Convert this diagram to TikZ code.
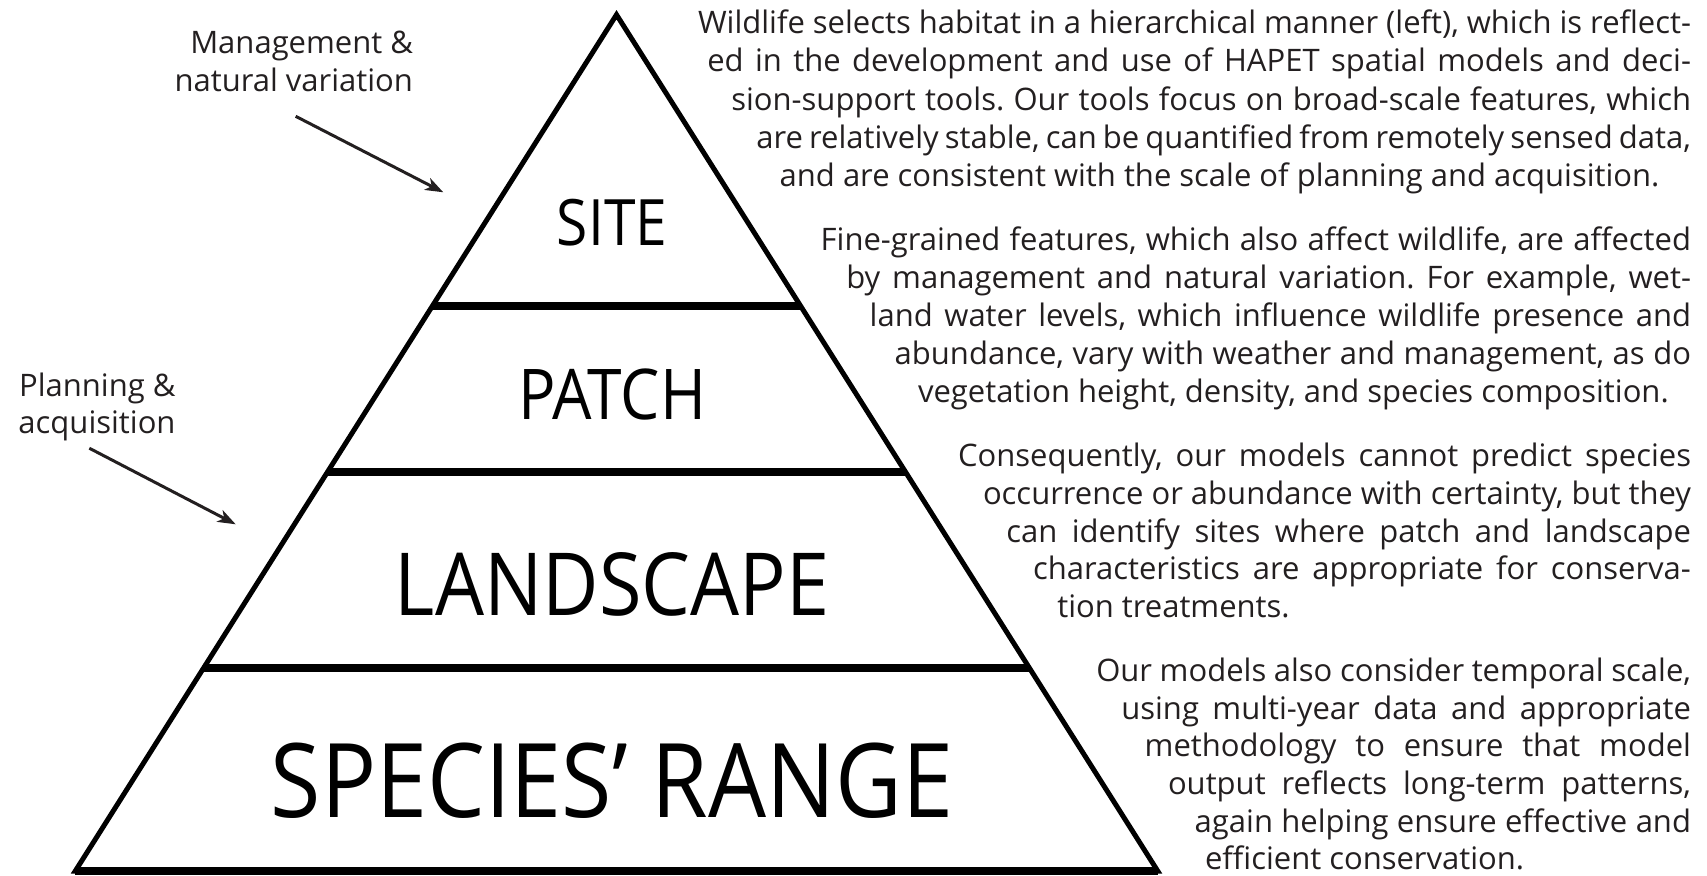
\documentclass[tikz,border=0pt]{standalone}
\usepackage{fontspec}
\setmainfont{Open Sans}
\newfontfamily\bodyfont{Open Sans}
\newfontfamily\labfont[FakeStretch=0.89]{Open Sans}
\usetikzlibrary{arrows.meta,calc}
\definecolor{ink}{HTML}{231F20}
\frenchspacing
\newcommand{\jline}[4]{\node[bodytext,anchor=base west] (#1) at (#2,#3) {\spaceskip=.26em plus .9em minus .1em\makebox[\dimexpr 1691pt-#2pt\relax][s]{#4}};}
\newcommand{\lastline}[4]{\node[bodytext,anchor=base west] (#1) at (#2,#3) {#4};}
\begin{document}
\begin{tikzpicture}[x=1pt,y=-1pt,
  bodytext/.style={inner sep=0pt,outer sep=0pt,text=ink,font=\bodyfont\fontsize{31}{38}\selectfont\frenchspacing},
  layer/.style={inner sep=0pt,outer sep=0pt,text=black,anchor=base},
  edge/.style={draw=black,line width=5pt,line join=miter},
  divider/.style={draw=black,line width=8pt},
  pointer/.style={draw=ink,line width=3pt,-{Stealth[length=18pt,width=13pt,inset=5pt]}}]
\path[use as bounding box] (0,0) rectangle (1707,875);
% pyramid
\coordinate (apex) at (616.5,14.7);
\coordinate (bl) at (75.3,871);
\coordinate (br) at (1157.7,871);
\draw[edge] (apex) -- (bl) -- (br) -- cycle;
\draw[divider] (bl) -- (br);
\draw[divider] ($(apex)!0.3402!(bl)$) coordinate (d1l) -- ($(apex)!0.3402!(br)$) coordinate (d1r);
\draw[divider] ($(apex)!0.5346!(bl)$) coordinate (d2l) -- ($(apex)!0.5346!(br)$) coordinate (d2r);
\draw[divider] ($(apex)!0.7629!(bl)$) coordinate (d3l) -- ($(apex)!0.7629!(br)$) coordinate (d3r);
% layer labels
\node[layer,font=\labfont\fontsize{64}{64}\selectfont] (site) at (612,245.7) {SITE};
\node[layer,font=\labfont\fontsize{70}{70}\selectfont] (patch) at (612,419.6) {PATCH};
\node[layer,font=\labfont\fontsize{87}{87}\selectfont] (landscape) at (612,615) {LANDSCAPE};
\node[layer,font=\labfont\fontsize{103}{103}\selectfont] (range) at (612,817.3) {SPECIES’ RANGE};
% side labels
\node[bodytext,anchor=base east] (mgmt1) at (413,53.3) {Management \&};
\node[bodytext,anchor=base east] (mgmt2) at (413,91) {natural variation};
\node[bodytext,anchor=base east] (plan1) at (175.5,396.7) {Planning \&};
\node[bodytext,anchor=base east] (plan2) at (175.5,433) {acquisition};
\coordinate (mgFrom) at (295.7,116.3);
\coordinate (mgTo) at (443.3,192.3);
\coordinate (plFrom) at (89.3,448.2);
\coordinate (plTo) at (235.7,524.3);
\draw[pointer] (mgFrom) -- (mgTo);
\draw[pointer] (plFrom) -- (plTo);
% paragraph 1
\jline{pa1}{698}{33.3}{Wildlife selects habitat in a hierarchical manner (left), which is reflect-}
\jline{pa2}{707.3}{71.7}{ed in the development and use of HAPET spatial models and deci-}
\jline{pa3}{731.3}{110}{sion-support tools. Our tools focus on broad-scale features, which}
\jline{pa4}{756.3}{148.3}{are relatively stable, can be quantified from remotely sensed data,}
\lastline{pa5}{779.7}{186.7}{and are consistent with the scale of planning and acquisition.}
% paragraph 2
\jline{pb1}{820.7}{250}{Fine-grained features, which also affect wildlife, are affected}
\jline{pb2}{846.3}{288}{by management and natural variation. For example, wet-}
\jline{pb3}{869.7}{326}{land water levels, which influence wildlife presence and}
\jline{pb4}{894.7}{364}{abundance, vary with weather and management, as do}
\lastline{pb5}{918}{402.3}{vegetation height, density, and species composition.}
% paragraph 3
\jline{pc1}{958}{466.4}{Consequently, our models cannot predict species}
\jline{pc2}{983}{504.2}{occurrence or abundance with certainty, but they}
\jline{pc3}{1006.3}{542}{can identify sites where patch and landscape}
\jline{pc4}{1033}{579.6}{characteristics are appropriate for conserva-}
\lastline{pc5}{1057.3}{617.2}{tion treatments.}
% paragraph 4
\jline{pd1}{1096.3}{681.6}{Our models also consider temporal scale,}
\jline{pd2}{1121.3}{719.2}{using multi-year data and appropriate}
\jline{pd3}{1144.7}{756.8}{methodology to ensure that model}
\jline{pd4}{1168}{794.4}{output reflects long-term patterns,}
\jline{pd5}{1194.7}{832}{again helping ensure effective and}
\lastline{pd6}{1205}{869.6}{efficient conservation.}
\end{tikzpicture}
\end{document}
